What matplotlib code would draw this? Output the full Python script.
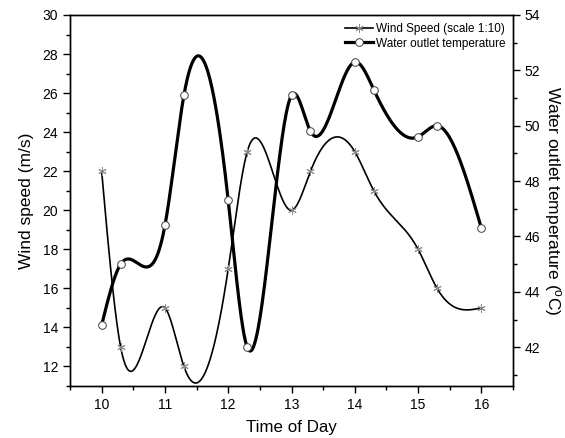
import numpy as np
import matplotlib
matplotlib.use("Agg")
import matplotlib.pyplot as plt
from matplotlib.ticker import MultipleLocator
from matplotlib.lines import Line2D

plt.rcParams['font.family'] = ['Liberation Sans', 'DejaVu Sans']
plt.rcParams['mathtext.fontset'] = 'custom'
plt.rcParams['mathtext.rm'] = 'Liberation Sans'
plt.rcParams['mathtext.it'] = 'Liberation Sans'

time = [10, 10.3, 11, 11.3, 12, 12.3, 13, 13.3, 14, 14.3, 15, 15.3, 16]
wind = [22, 13, 15, 12, 17, 23, 20, 22, 23, 21, 18, 16, 15]
water = [42.8, 45.0, 46.4, 51.1, 47.3, 42.0, 51.1, 49.8, 52.3, 51.3, 49.6, 50.0, 46.3]
x_ticks = [10, 11, 12, 13, 14, 15, 16]


def natural_spline(x, y, n=600):
    x = np.asarray(x, float)
    y = np.asarray(y, float)
    k = len(x)
    h = np.diff(x)
    A = np.zeros((k, k))
    r = np.zeros(k)
    A[0, 0] = 1
    A[-1, -1] = 1
    for i in range(1, k - 1):
        A[i, i - 1] = h[i - 1]
        A[i, i] = 2 * (h[i - 1] + h[i])
        A[i, i + 1] = h[i]
        r[i] = 3 * ((y[i + 1] - y[i]) / h[i] - (y[i] - y[i - 1]) / h[i - 1])
    c = np.linalg.solve(A, r)
    b = np.zeros(k - 1)
    d = np.zeros(k - 1)
    for i in range(k - 1):
        b[i] = (y[i + 1] - y[i]) / h[i] - h[i] * (2 * c[i] + c[i + 1]) / 3
        d[i] = (c[i + 1] - c[i]) / (3 * h[i])
    xs = np.linspace(x[0], x[-1], n)
    idx = np.clip(np.searchsorted(x, xs) - 1, 0, k - 2)
    dx = xs - x[idx]
    ys = y[idx] + b[idx] * dx + c[idx] * dx ** 2 + d[idx] * dx ** 3
    return xs, ys


fig = plt.figure(figsize=(5.65, 4.38), dpi=100)
ax = fig.add_axes([0.1239, 0.1187, 0.908 - 0.1239, 0.9658 - 0.1187])
ax2 = ax.twinx()

star = (6, 2, 0)
xs, ys = natural_spline(time, wind)
ax.plot(xs, ys, color='black', lw=1.2, zorder=3)
ax.plot(time, wind, linestyle='none', marker=star, ms=6, mec='#8a8a8a',
        mew=0.7, zorder=4)

xs2, ys2 = natural_spline(time, water)
ax2.plot(xs2, ys2, color='black', lw=2.3, zorder=3)
ax2.plot(time, water, linestyle='none', marker='o', ms=5.5, mfc='white',
         mec='#404040', mew=0.7, zorder=4)

ax.set_xlim(9.5, 16.5)
ax.set_ylim(11, 30)
ax2.set_ylim(40.6, 54)
ax.set_xticks(x_ticks)
ax.xaxis.set_minor_locator(MultipleLocator(0.5))
ax.set_yticks(np.arange(12, 31, 2))
ax.yaxis.set_minor_locator(MultipleLocator(1))
ax2.set_yticks(np.arange(42, 55, 2))
ax2.yaxis.set_minor_locator(MultipleLocator(1))

for a in (ax, ax2):
    a.tick_params(which='major', direction='out', length=5, width=1, labelsize=10)
    a.tick_params(which='minor', direction='out', length=3, width=1)
    for s in a.spines.values():
        s.set_linewidth(1.0)

ax.set_xlabel('Time of Day', fontsize=12.2, labelpad=6)
ax.set_ylabel('Wind speed (m/s)', fontsize=12.5, labelpad=6)
ax2.set_ylabel(r'Water outlet temperature ($^{o}$C)', fontsize=12.5,
               rotation=270, labelpad=16)

h1 = Line2D([], [], color='black', lw=1.2, marker=star, ms=6,
            mec='#8a8a8a', mew=0.7)
h2 = Line2D([], [], color='black', lw=2.3, marker='o', ms=5.5, mfc='white',
            mec='#404040', mew=0.7)
ax.legend([h1, h2], ['Wind Speed (scale 1:10)', 'Water outlet temperature'],
          loc='upper right', frameon=False, fontsize=8.5, handlelength=2.4,
          handletextpad=0.25, borderaxespad=0.25, labelspacing=0.25)

fig.savefig('out.png', dpi=100)
